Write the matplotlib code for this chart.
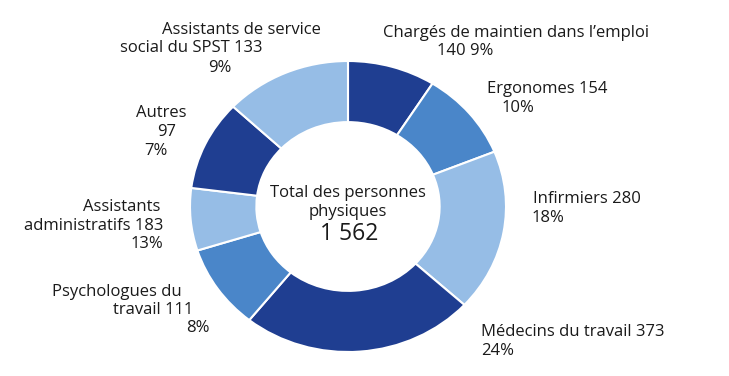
import matplotlib
matplotlib.use("Agg")
import matplotlib.pyplot as plt

# Wedge sizes (clockwise from the top)
wedge_sizes = [140, 154, 280, 373, 146, 108, 156, 202]
wedge_colors = ["#1f3e91", "#4a86c9", "#96bde6", "#1f3e91",
                "#4a86c9", "#96bde6", "#1f3e91", "#96bde6"]

# Label lines as printed on the chart: (text, x px, y px, alignment)
label_lines = [
    ("Assistants de service", 241, 30, "center"),
    ("social du SPST 133", 191, 48, "center"),
    ("9%", 220, 68, "center"),
    ("Chargés de maintien dans l\u2019emploi", 516, 33, "center"),
    ("140 9%", 465, 51, "center"),
    ("Ergonomes 154", 547, 89, "center"),
    ("10%", 518, 108, "center"),
    ("Infirmiers 280", 533, 199, "left"),
    ("18%", 532, 218, "left"),
    ("Médecins du travail 373", 481, 332, "left"),
    ("24%", 481, 351, "left"),
    ("Autres", 187, 113, "right"),
    ("97", 176, 132, "right"),
    ("7%", 168, 151, "right"),
    ("Assistants", 160, 207, "right"),
    ("administratifs 183", 163, 226, "right"),
    ("13%", 163, 244, "right"),
    ("Psychologues du", 182, 292, "right"),
    ("travail 111", 193, 310, "right"),
    ("8%", 210, 328, "right"),
]
center_lines = ["Total des personnes", "physiques"]
total = "1 562"

W, H = 729, 376
fig = plt.figure(figsize=(W / 100, H / 100), dpi=100)
plt.rcParams["font.family"] = ["Open Sans", "DejaVu Sans"]

# donut box in pixels (slightly wider than tall, as in the picture)
left, top, right, bottom = 190, 61, 506, 352
m = 1.05
cx, cy = (left + right) / 2, (top + bottom) / 2
hw, hh = (right - left) / 2 * m, (bottom - top) / 2 * m
ax = fig.add_axes([(cx - hw) / W, 1 - (cy + hh) / H, 2 * hw / W, 2 * hh / H])
ax.pie(wedge_sizes, colors=wedge_colors, startangle=90, counterclock=False,
       radius=1, wedgeprops=dict(width=0.42, edgecolor="white", linewidth=1.5))
ax.set_aspect("auto")
ax.set_xlim(-m, m)
ax.set_ylim(-m, m)
ax.axis("off")

txt_color = "#1a1a1a"
for s, x, y, ha in label_lines:
    fig.text(x / W, 1 - y / H, s, ha=ha, va="center", fontsize=12, color=txt_color)

fig.text(348 / W, 1 - 193 / H, center_lines[0], ha="center", va="center",
         fontsize=12, color=txt_color)
fig.text(348 / W, 1 - 212 / H, center_lines[1], ha="center", va="center",
         fontsize=12, color=txt_color)
fig.text(349 / W, 1 - 234 / H, total, ha="center", va="center",
         fontsize=16.5, color=txt_color)

fig.savefig("out.png", dpi=100, facecolor="white")
